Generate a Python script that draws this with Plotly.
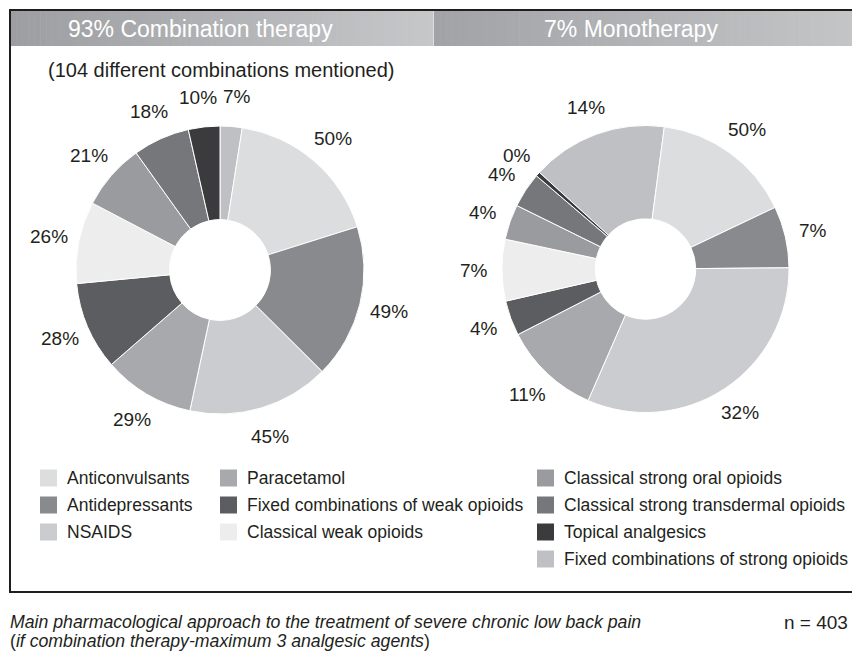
import math
import plotly.graph_objects as go

# ---------------- data ----------------
categories = [
    "Fixed combinations of strong opioids",
    "Anticonvulsants",
    "Antidepressants",
    "NSAIDS",
    "Paracetamol",
    "Fixed combinations of weak opioids",
    "Classical weak opioids",
    "Classical strong oral opioids",
    "Classical strong transdermal opioids",
    "Topical analgesics",
]
combo_pct = [7, 50, 49, 45, 29, 28, 26, 21, 18, 10]
mono_pct_label = [14, 50, 7, 32, 11, 4, 7, 4, 4, 0]          # printed labels
mono_share_drawn = [15.5, 16, 7, 32, 11, 4, 7, 4, 4, 0.5]     # slice sizes as drawn
colors = ["#bfc0c3", "#dcdddf", "#898a8e", "#cbcccf", "#a8a9ac",
          "#5c5d60", "#ededed", "#9a9b9e", "#76777b", "#3b3b3d"]

legend_columns = [
    ["Anticonvulsants", "Antidepressants", "NSAIDS"],
    ["Paracetamol", "Fixed combinations of weak opioids", "Classical weak opioids"],
    ["Classical strong oral opioids", "Classical strong transdermal opioids",
     "Topical analgesics", "Fixed combinations of strong opioids"],
]
header_labels = ["93% Combination therapy", "7% Monotherapy"]
subtitle = "(104 different combinations mentioned)"
caption_1 = "<i>Main pharmacological approach to the treatment of severe chronic low back pain</i>"
caption_2 = "(<i>if combination therapy-maximum 3 analgesic agents</i>)"
n_label = "n = 403"

# ---------------- layout helpers ----------------
W, H = 852, 653
FONT = "Liberation Sans, Arial, Helvetica, sans-serif"
TXT = "#231f20"
LABEL_SIZE = 19


def dom(cx, cy, r):
    return dict(x=[(cx - r) / W, (cx + r) / W], y=[1 - (cy + r) / H, 1 - (cy - r) / H])


def hexmix(c1, c2, t):
    a = [int(c1[i:i + 2], 16) for i in (1, 3, 5)]
    b = [int(c2[i:i + 2], 16) for i in (1, 3, 5)]
    return "#" + "".join(f"{round(a[k] + (b[k] - a[k]) * t):02x}" for k in range(3))


def label_angles(vals, rot, texts, radius):
    """Mid-angle of every slice, nudged apart when neighbouring labels would collide."""
    total = sum(vals)
    cum, ang = 0.0, []
    for v in vals:
        ang.append(rot + (cum + v / 2) / total * 360)
        cum += v
    widths = [LABEL_SIZE * (0.556 * (len(t) - 1) + 0.889) for t in texts]
    hgt = LABEL_SIZE * 0.9
    n = len(ang)
    for _ in range(200):
        moved = False
        for i in range(n):
            j = (i + 1) % n
            a1, a2 = math.radians(ang[i]), math.radians(ang[j])
            x1, y1 = radius * math.sin(a1), -radius * math.cos(a1)
            x2, y2 = radius * math.sin(a2), -radius * math.cos(a2)
            ox = (widths[i] + widths[j]) / 2 + 6 - abs(x1 - x2)
            oy = hgt + 2 - abs(y1 - y2)
            if ox > 0 and oy > 0:
                ang[i] -= 0.25
                ang[j] += 0.25
                moved = True
        if not moved:
            break
    return ang


fig = go.Figure()
shapes = []
annotations = []

pies = [
    dict(cx=220, cy=270, r=144, vals=combo_pct, txt=[f"{v}%" for v in combo_pct],
         rot=0, lr=174),
    dict(cx=645.5, cy=269, r=143.5, vals=mono_share_drawn,
         txt=[f"{v}%" for v in mono_pct_label], rot=-47.7, lr=172),
]
for p in pies:
    fig.add_trace(go.Pie(
        labels=categories, values=p["vals"], sort=False, direction="clockwise",
        rotation=p["rot"], hole=0.35, domain=dom(p["cx"], p["cy"], p["r"]),
        marker=dict(colors=colors, line=dict(color="white", width=1)),
        textinfo="none", hoverinfo="skip", showlegend=False,
    ))
    # percentage labels placed around each slice's mid-angle, outside the ring
    for a, t in zip(label_angles(p["vals"], p["rot"], p["txt"], p["lr"]), p["txt"]):
        r = math.radians(a)
        annotations.append(dict(
            xref="x", yref="y",
            x=p["cx"] + p["lr"] * math.sin(r), y=p["cy"] - p["lr"] * math.cos(r),
            text=t, showarrow=False, xanchor="center", yanchor="middle",
            font=dict(family=FONT, size=LABEL_SIZE, color=TXT)))

# header bars with horizontal gradient
bars = [(10, 433, "#9d9ea1", "#c6c7c9"), (434, 860, "#a2a3a6", "#c4c5c7")]
N = 70
for x0, x1, c0, c1 in bars:
    step = (x1 - x0) / N
    for i in range(N):
        shapes.append(dict(type="rect", xref="x", yref="y",
                           x0=x0 + i * step, x1=x0 + (i + 1) * step + 0.6,
                           y0=11, y1=46, fillcolor=hexmix(c0, c1, i / (N - 1)),
                           line=dict(width=0), layer="below"))

# frame
shapes.append(dict(type="rect", xref="x", yref="y", x0=10, x1=870, y0=10, y1=592,
                   line=dict(color="#1e1e1e", width=2), fillcolor="rgba(0,0,0,0)"))

for text, xc in zip(header_labels, [200, 631]):
    annotations.append(dict(xref="x", yref="y", x=xc, y=29, text=text, showarrow=False,
                            xanchor="center", yanchor="middle",
                            font=dict(family=FONT, size=23, color="white")))

annotations.append(dict(xref="x", yref="y", x=46, y=70, text=subtitle, showarrow=False,
                        xanchor="left", yanchor="middle",
                        font=dict(family=FONT, size=20, color=TXT)))

# legend
col_swatch_x = [40, 220, 537]
row_y = [478, 505, 532, 559]
cmap = dict(zip(categories, colors))
for ci, col in enumerate(legend_columns):
    for ri, name in enumerate(col):
        sx = col_swatch_x[ci]
        yc = row_y[ri]
        shapes.append(dict(type="rect", xref="x", yref="y", x0=sx, x1=sx + 17,
                           y0=yc - 8.5, y1=yc + 8.5, fillcolor=cmap[name], line=dict(width=0)))
        annotations.append(dict(xref="x", yref="y", x=sx + 25, y=yc, text=name,
                                showarrow=False, xanchor="left", yanchor="middle",
                                font=dict(family=FONT, size=17.5, color=TXT)))

# caption
annotations.append(dict(xref="x", yref="y", x=8, y=622, text=caption_1, showarrow=False,
                        xanchor="left", yanchor="middle",
                        font=dict(family=FONT, size=17.7, color=TXT)))
annotations.append(dict(xref="x", yref="y", x=8, y=641, text=caption_2, showarrow=False,
                        xanchor="left", yanchor="middle",
                        font=dict(family=FONT, size=17.7, color=TXT)))
annotations.append(dict(xref="x", yref="y", x=850, y=622, text=n_label, showarrow=False,
                        xanchor="right", yanchor="middle",
                        font=dict(family=FONT, size=19, color=TXT)))

fig.update_layout(
    width=W, height=H, autosize=False,
    margin=dict(l=0, r=0, t=0, b=0),
    paper_bgcolor="white", plot_bgcolor="white",
    font=dict(family=FONT, color=TXT),
    xaxis=dict(range=[0, W], visible=False, fixedrange=True, domain=[0, 1]),
    yaxis=dict(range=[H, 0], visible=False, fixedrange=True, domain=[0, 1]),
    shapes=shapes, annotations=annotations, showlegend=False,
)

fig.write_html("out.html", config={"displayModeBar": False},
               post_script="document.body.style.margin='0px';document.body.style.overflow='hidden';")
